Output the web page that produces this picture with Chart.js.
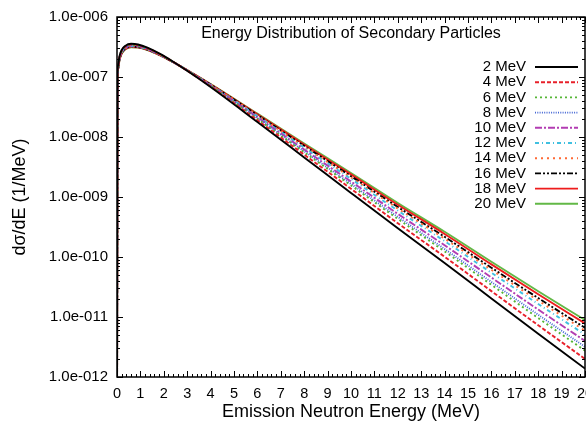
<!DOCTYPE html>
<html>
<head>
<meta charset="utf-8">
<script src="https://cdn.jsdelivr.net/npm/chart.js@4"></script>
<style>
  html, body { margin: 0; padding: 0; background: #fff; }
  #wrap { width: 586px; height: 426px; position: relative; }
</style>
</head>
<body>
<div id="wrap"><canvas id="spectrumChart"></canvas></div>
<script>
// emission neutron energy (MeV)
const energies = [0, 0.02, 0.05, 0.1, 0.2, 0.35, 0.6, 0.9, 1.3, 1.8, 2.4, 3, 4, 6, 8, 10, 12, 14, 16, 18, 20];

const seriesLabels = ['2 MeV', '4 MeV', '6 MeV', '8 MeV', '10 MeV', '12 MeV', '14 MeV', '16 MeV', '18 MeV', '20 MeV'];

// dσ/dE (1/MeV)
const flux2 = [1e-13, 1.03e-7, 1.58e-7, 2.16e-7, 2.82e-7, 3.30e-7, 3.58e-7, 3.48e-7, 3.08e-7, 2.47e-7, 1.80e-7, 1.27e-7, 6.81e-8, 1.78e-8, 4.57e-9, 1.17e-9, 3.02e-10, 7.94e-11, 2.04e-11, 5.25e-12, 1.38e-12];
const flux4 = [1e-13, 1.00e-7, 1.53e-7, 2.09e-7, 2.74e-7, 3.21e-7, 3.48e-7, 3.40e-7, 3.03e-7, 2.44e-7, 1.79e-7, 1.27e-7, 6.97e-8, 1.90e-8, 5.08e-9, 1.37e-9, 3.66e-10, 1.01e-10, 2.70e-11, 7.28e-12, 2.00e-12];
const flux6 = [1e-13, 9.79e-8, 1.50e-7, 2.04e-7, 2.67e-7, 3.14e-7, 3.40e-7, 3.33e-7, 2.98e-7, 2.42e-7, 1.79e-7, 1.28e-7, 7.10e-8, 2.00e-8, 5.56e-9, 1.56e-9, 4.32e-10, 1.24e-10, 3.44e-11, 9.61e-12, 2.75e-12];
const flux8 = [1e-13, 9.68e-8, 1.48e-7, 2.02e-7, 2.64e-7, 3.10e-7, 3.37e-7, 3.30e-7, 2.96e-7, 2.41e-7, 1.78e-7, 1.28e-7, 7.16e-8, 2.06e-8, 5.79e-9, 1.65e-9, 4.67e-10, 1.36e-10, 3.84e-11, 1.09e-11, 3.19e-12];
const flux10 = [1e-13, 9.53e-8, 1.45e-7, 1.98e-7, 2.60e-7, 3.05e-7, 3.32e-7, 3.25e-7, 2.92e-7, 2.39e-7, 1.78e-7, 1.28e-7, 7.26e-8, 2.14e-8, 6.18e-9, 1.81e-9, 5.24e-10, 1.57e-10, 4.55e-11, 1.33e-11, 4.00e-12];
const flux12 = [1e-13, 9.35e-8, 1.42e-7, 1.94e-7, 2.55e-7, 3.00e-7, 3.26e-7, 3.21e-7, 2.89e-7, 2.37e-7, 1.77e-7, 1.29e-7, 7.38e-8, 2.23e-8, 6.62e-9, 2.00e-9, 5.94e-10, 1.84e-10, 5.46e-11, 1.65e-11, 5.09e-12];
const flux14 = [1e-13, 9.25e-8, 1.41e-7, 1.92e-7, 2.52e-7, 2.96e-7, 3.23e-7, 3.17e-7, 2.87e-7, 2.36e-7, 1.77e-7, 1.29e-7, 7.45e-8, 2.29e-8, 6.90e-9, 2.12e-9, 6.43e-10, 2.02e-10, 6.11e-11, 1.88e-11, 5.92e-12];
const flux16 = [1e-13, 9.18e-8, 1.39e-7, 1.90e-7, 2.50e-7, 2.94e-7, 3.20e-7, 3.15e-7, 2.85e-7, 2.35e-7, 1.77e-7, 1.29e-7, 7.50e-8, 2.33e-8, 7.13e-9, 2.22e-9, 6.81e-10, 2.17e-10, 6.64e-11, 2.07e-11, 6.61e-12];
const flux18 = [1e-13, 9.06e-8, 1.37e-7, 1.87e-7, 2.47e-7, 2.90e-7, 3.16e-7, 3.12e-7, 2.83e-7, 2.34e-7, 1.77e-7, 1.30e-7, 7.57e-8, 2.40e-8, 7.48e-9, 2.38e-9, 7.43e-10, 2.42e-10, 7.53e-11, 2.40e-11, 7.82e-12];
const flux20 = [1e-13, 8.97e-8, 1.36e-7, 1.86e-7, 2.44e-7, 2.88e-7, 3.13e-7, 3.09e-7, 2.81e-7, 2.33e-7, 1.77e-7, 1.30e-7, 7.64e-8, 2.45e-8, 7.76e-9, 2.51e-9, 7.94e-10, 2.63e-10, 8.32e-11, 2.69e-11, 8.91e-12];

const yTickValues = [1e-12, 1e-11, 1e-10, 1e-9, 1e-8, 1e-7, 1e-6];
const yTickLabels = ['1.0e-012', '1.0e-011', '1.0e-010', '1.0e-009', '1.0e-008', '1.0e-007', '1.0e-006'];

const allFlux = [flux2, flux4, flux6, flux8, flux10, flux12, flux14, flux16, flux18, flux20];

const lineStyles = [
    { color: '#000000', dash: [] },
    { color: '#e8202a', dash: [4, 2] },
    { color: '#55b535', dash: [2, 3] },
    { color: '#4466d4', dash: [1, 1.3] },
    { color: '#b23cb2', dash: [7, 2, 2, 2] },
    { color: '#40c0e0', dash: [4, 3, 1, 3] },
    { color: '#ff6a35', dash: [2, 4] },
    { color: '#000000', dash: [6, 2, 2, 2, 2, 2] },
    { color: '#ee1c1c', dash: [] },
    { color: '#62b846', dash: [] }
];

const FONT = '"Liberation Sans", Arial, Helvetica, sans-serif';

const datasets = allFlux.map((values, i) => ({
    label: seriesLabels[i],
    data: energies.map((e, j) => ({ x: e, y: values[j] })),
    borderColor: lineStyles[i].color,
    borderDash: lineStyles[i].dash,
    borderWidth: 1.9,
    pointRadius: 0,
    fill: false,
    cubicInterpolationMode: 'monotone'
}));

// frame with inward ticks, inner title and gnuplot-like key
const framePlugin = {
    id: 'frame',
    afterDatasetsDraw(chart) {
        const { ctx, chartArea: a, scales: { x, y } } = chart;
        ctx.save();
        ctx.strokeStyle = '#000';
        ctx.lineWidth = 1;
        ctx.setLineDash([]);
        ctx.beginPath();
        for (let i = 0; i <= 100; i++) {
            const px = Math.round(x.getPixelForValue(i / 5)) + 0.5;
            const len = i % 5 === 0 ? 6 : 3;
            ctx.moveTo(px, a.bottom); ctx.lineTo(px, a.bottom - len);
            ctx.moveTo(px, a.top); ctx.lineTo(px, a.top + len);
        }
        for (let n = -12; n <= -6; n++) {
            for (let m = 1; m <= 9; m++) {
                if (n === -6 && m > 1) break;
                const py = Math.round(y.getPixelForValue(m * Math.pow(10, n))) + 0.5;
                const len = m === 1 ? 6 : 3;
                ctx.moveTo(a.left, py); ctx.lineTo(a.left + len, py);
                ctx.moveTo(a.right, py); ctx.lineTo(a.right - len, py);
            }
        }
        ctx.stroke();
        ctx.lineWidth = 1.5;
        ctx.strokeRect(a.left, a.top, a.width, a.height);

        ctx.fillStyle = '#000';
        ctx.font = '16px ' + FONT;
        ctx.textAlign = 'center';
        ctx.textBaseline = 'middle';
        ctx.fillText('Energy Distribution of Secondary Particles', 351, 34);

        ctx.font = '15px ' + FONT;
        ctx.textAlign = 'right';
        chart.data.datasets.forEach((ds, i) => {
            const ly = 67 + i * 15.2;
            ctx.fillStyle = '#000';
            ctx.fillText(ds.label, 526, ly);
            ctx.strokeStyle = ds.borderColor;
            ctx.lineWidth = ds.borderWidth;
            ctx.setLineDash(ds.borderDash);
            ctx.beginPath();
            ctx.moveTo(535, ly);
            ctx.lineTo(578, ly);
            ctx.stroke();
        });
        ctx.restore();
    }
};

new Chart(document.getElementById('spectrumChart'), {
    type: 'line',
    data: { datasets },
    options: {
        responsive: true,
        maintainAspectRatio: false,
        animation: false,
        layout: { padding: { top: 17, right: 1, left: 0, bottom: 0 } },
        plugins: {
            legend: { display: false },
            tooltip: { enabled: false }
        },
        scales: {
            x: {
                type: 'linear',
                min: 0,
                max: 20,
                grid: { display: false, drawTicks: false },
                border: { display: false },
                ticks: {
                    stepSize: 1,
                    autoSkip: false,
                    maxRotation: 0,
                    padding: 8,
                    color: '#000',
                    font: { family: FONT, size: 14.5 }
                },
                title: {
                    display: true,
                    text: 'Emission Neutron Energy (MeV)',
                    color: '#000',
                    font: { family: FONT, size: 18 },
                    padding: { top: 0, bottom: 3 }
                },
                afterFit: s => { s.height = 49; s.paddingLeft = 0; s.paddingRight = 0; }
            },
            y: {
                type: 'logarithmic',
                min: 1e-12,
                max: 1e-6,
                grid: { display: false, drawTicks: false },
                border: { display: false },
                afterBuildTicks: s => { s.ticks = yTickValues.map(v => ({ value: v })); },
                ticks: {
                    padding: 9,
                    color: '#000',
                    font: { family: FONT, size: 15 },
                    callback: (value, index) => yTickLabels[index]
                },
                title: {
                    display: true,
                    text: 'dσ/dE (1/MeV)',
                    color: '#000',
                    font: { family: FONT, size: 18 },
                    padding: { top: 9, bottom: 0 }
                },
                afterFit: s => { s.width = 117; s.paddingTop = 0; s.paddingBottom = 0; }
            }
        }
    },
    plugins: [framePlugin]
});
</script>
</body>
</html>
